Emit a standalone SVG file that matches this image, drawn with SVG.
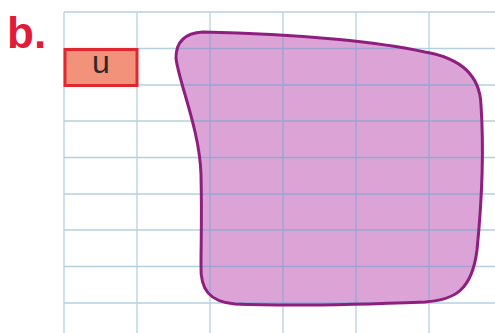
<svg xmlns="http://www.w3.org/2000/svg" width="495" height="333" viewBox="0 0 495 333">
<style>
.grid{stroke:#a9cadb;stroke-width:1.3;opacity:0.85}
.gridin{stroke:#9a92d0;stroke-width:1.3;opacity:0.7}
.lbl{font-family:"Liberation Sans",Arial,sans-serif}
</style>
<defs>
<path id="blob" d="M 203 32 C 300 34, 380 42, 425 52 C 460 58, 480 75, 481 105 C 484 150, 482 200, 477 250 C 472 290, 455 300, 425 302 C 350 305, 280 306, 235 304 C 210 302, 200 290, 201 265 C 201 245, 202 215, 201 175 C 200 130, 178 80, 176 58 C 176 42, 185 33, 203 32 Z"/>
<clipPath id="blobclip"><use href="#blob"/></clipPath>
<g id="gridlines">
<line x1="64" y1="12" x2="495" y2="12"/>
<line x1="64" y1="48.5" x2="495" y2="48.5"/>
<line x1="64" y1="85" x2="495" y2="85"/>
<line x1="64" y1="121" x2="495" y2="121"/>
<line x1="64" y1="157.5" x2="495" y2="157.5"/>
<line x1="64" y1="194" x2="495" y2="194"/>
<line x1="64" y1="230" x2="495" y2="230"/>
<line x1="64" y1="266.5" x2="495" y2="266.5"/>
<line x1="64" y1="303" x2="495" y2="303"/>
<line x1="64" y1="12" x2="64" y2="333"/>
<line x1="137" y1="12" x2="137" y2="333"/>
<line x1="210" y1="12" x2="210" y2="333"/>
<line x1="283" y1="12" x2="283" y2="333"/>
<line x1="356" y1="12" x2="356" y2="333"/>
<line x1="429" y1="12" x2="429" y2="333"/>
</g>
</defs>
<rect width="495" height="333" fill="#ffffff"/>
<g id="shape-fill">
<use href="#blob" fill="#dca3d8"/>
</g>
<g class="grid" id="grid">
<use href="#gridlines"/>
</g>
<g class="gridin" id="grid-inside" clip-path="url(#blobclip)">
<use href="#gridlines"/>
</g>
<g id="shape-outline">
<use href="#blob" fill="none" stroke="#8e1f7f" stroke-width="3"/>
</g>
<g id="unit-box">
<rect x="65" y="49.5" width="72" height="36" fill="#f3927b" stroke="#e0262f" stroke-width="3"/>
<text class="lbl" x="101" y="73" font-size="32" fill="#2a2a2a" text-anchor="middle">u</text>
</g>
<g id="label">
<text class="lbl" x="7" y="48" font-size="44" font-weight="bold" fill="#e01b3c">b.</text>
</g>
</svg>
